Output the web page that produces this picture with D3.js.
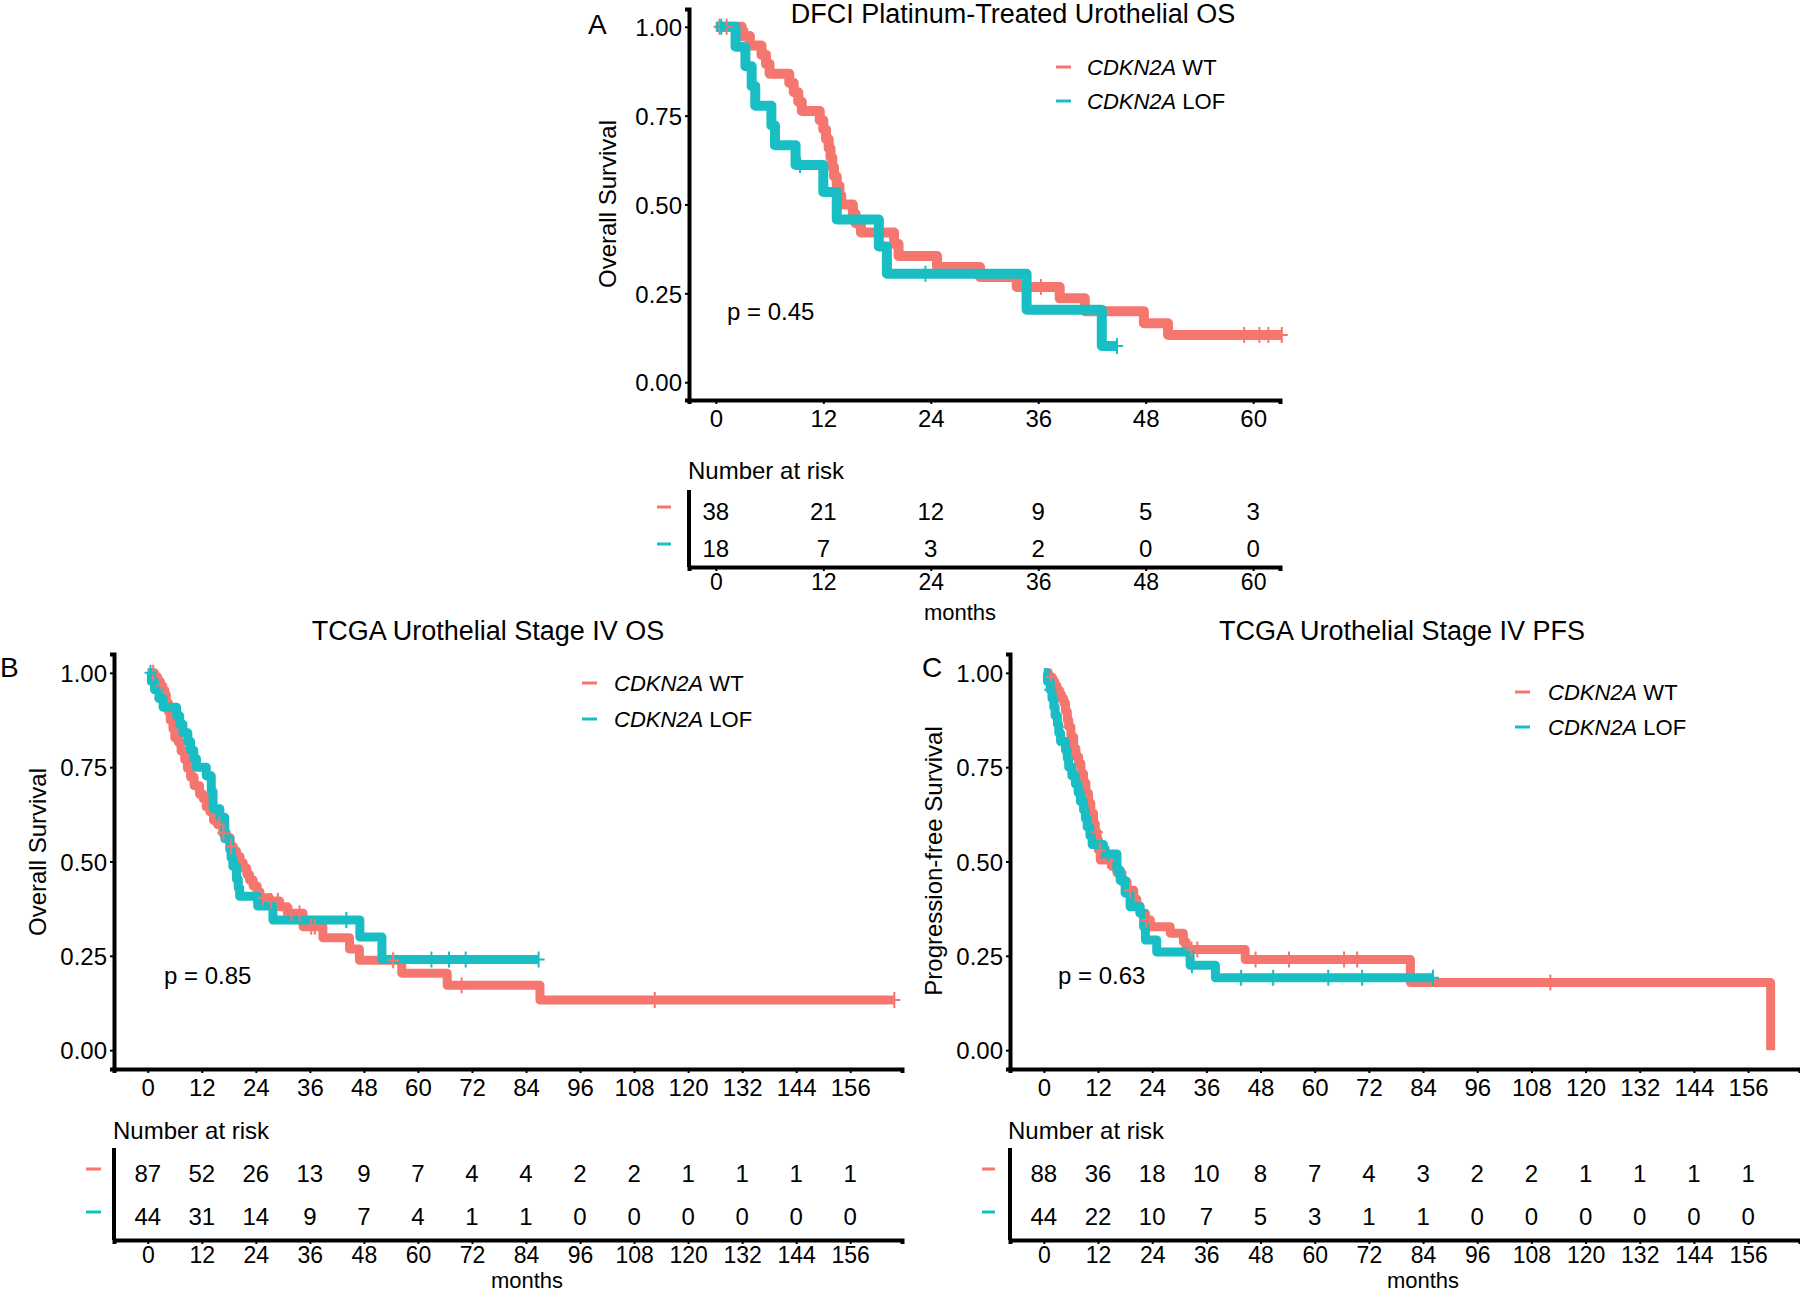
<!DOCTYPE html>
<html>
<head>
<meta charset="utf-8">
<script src="https://cdn.jsdelivr.net/npm/d3@7"></script>
<style>
  body { margin: 0; background: #fff; }
  text { font-family: "Liberation Sans", Arial, sans-serif; fill: #000; }
</style>
</head>
<body>
<svg id="fig" width="1800" height="1293"></svg>
<script>
// ---- data ----
var groupNames = ["WT", "LOF"];
var colWT = "#F5766E", colLOF = "#18BEC4";

// panel A : DFCI platinum-treated OS
var monthsA = [0, 12, 24, 36, 48, 60];
var riskA_wt = [38, 21, 12, 9, 5, 3];
var riskA_lof = [18, 7, 3, 2, 0, 0];
var survA_wt_t = [0, 2.9, 3.8, 5.1, 5.6, 6.0, 8.2, 8.7, 9.2, 9.6, 11.6, 12.0, 12.3, 12.6, 12.8, 13.0, 13.2, 13.5, 13.8, 14.0, 15.3, 15.6, 16.2, 19.9, 20.4, 24.7, 29.5, 33.6, 38.4, 41.2, 47.8, 50.5, 63.2];
var survA_wt_s = [1, 0.974, 0.947, 0.921, 0.895, 0.868, 0.842, 0.816, 0.789, 0.763, 0.737, 0.711, 0.684, 0.658, 0.632, 0.605, 0.579, 0.553, 0.526, 0.5, 0.474, 0.447, 0.421, 0.389, 0.355, 0.324, 0.296, 0.268, 0.236, 0.2, 0.166, 0.133, 0.133];
var censA_wt = [0.4, 1.2, 3.5, 36.3, 59.0, 60.7, 61.7, 63.2];
var survA_lof_t = [0, 2.2, 3.3, 4.0, 4.4, 6.2, 6.6, 8.9, 12.0, 13.5, 18.2, 19.1, 34.7, 43.1, 44.8];
var survA_lof_s = [1, 0.944, 0.889, 0.833, 0.778, 0.722, 0.667, 0.611, 0.535, 0.458, 0.382, 0.305, 0.204, 0.102, 0.102];
var censA_lof = [0.6, 9.4, 23.4, 44.8];

// panel B : TCGA stage IV OS
var monthsBC = [0, 12, 24, 36, 48, 60, 72, 84, 96, 108, 120, 132, 144, 156];
var riskB_wt = [87, 52, 26, 13, 9, 7, 4, 4, 2, 2, 1, 1, 1, 1];
var riskB_lof = [44, 31, 14, 9, 7, 4, 1, 1, 0, 0, 0, 0, 0, 0];
var survB_wt_t = [0, 1.5, 2.2, 2.8, 3.3, 3.8, 4.1, 4.6, 5.0, 5.6, 6.0, 6.8, 7.4, 8.2, 8.8, 9.5, 10.3, 11.5, 12.3, 13.0, 13.8, 14.6, 15.5, 16.7, 17.5, 18.3, 19.0, 19.7, 20.5, 21.2, 22.0, 22.6, 23.4, 24.3, 24.9, 27.0, 29.3, 31.0, 34.5, 38.9, 44.8, 47.0, 56.4, 66.5, 87.1, 165.8];
var survB_wt_s = [1, 0.989, 0.977, 0.966, 0.954, 0.943, 0.92, 0.897, 0.874, 0.851, 0.828, 0.816, 0.793, 0.77, 0.747, 0.724, 0.701, 0.678, 0.667, 0.644, 0.632, 0.609, 0.598, 0.575, 0.563, 0.54, 0.528, 0.513, 0.497, 0.482, 0.466, 0.451, 0.435, 0.42, 0.404, 0.395, 0.38, 0.363, 0.327, 0.298, 0.268, 0.238, 0.204, 0.172, 0.133, 0.133];
var censB_wt = [1.2, 3.0, 11.9, 15.9, 16.8, 18.5, 25.6, 27.4, 28.9, 31.9, 33.7, 36.3, 37.1, 54.5, 69.7, 112.6, 165.8];
var survB_lof_t = [0, 0.8, 1.5, 2.5, 3.4, 6.4, 7.1, 7.8, 8.9, 9.5, 10.2, 10.8, 13.0, 14.1, 14.5, 16.0, 17.1, 18.2, 18.5, 18.9, 19.7, 20.1, 20.4, 24.4, 27.8, 47.1, 52.0, 86.8];
var survB_lof_s = [1, 0.977, 0.955, 0.932, 0.909, 0.886, 0.864, 0.841, 0.818, 0.795, 0.773, 0.75, 0.727, 0.686, 0.64, 0.617, 0.56, 0.532, 0.51, 0.487, 0.453, 0.43, 0.408, 0.382, 0.345, 0.3, 0.24, 0.24];
var censB_lof = [0.6, 2.8, 44.1, 63.0, 66.9, 70.6, 86.8];

// panel C : TCGA stage IV PFS
var riskC_wt = [88, 36, 18, 10, 8, 7, 4, 3, 2, 2, 1, 1, 1, 1];
var riskC_lof = [44, 22, 10, 7, 5, 3, 1, 1, 0, 0, 0, 0, 0, 0];
var survC_wt_t = [0, 1.0, 1.8, 2.4, 2.9, 3.4, 3.9, 4.4, 4.8, 5.2, 5.5, 6.0, 6.6, 7.1, 7.7, 8.2, 8.8, 9.3, 9.9, 10.4, 11.0, 11.4, 11.8, 12.1, 12.5, 15.1, 16.2, 17.3, 18.4, 19.9, 20.6, 21.3, 22.5, 23.6, 28.0, 30.9, 31.5, 44.6, 81.2, 161.0, 161.0];
var survC_wt_s = [1, 0.989, 0.977, 0.966, 0.955, 0.943, 0.932, 0.92, 0.898, 0.875, 0.857, 0.83, 0.8, 0.778, 0.76, 0.733, 0.708, 0.681, 0.655, 0.628, 0.6, 0.578, 0.557, 0.53, 0.504, 0.487, 0.47, 0.447, 0.424, 0.4, 0.382, 0.363, 0.345, 0.327, 0.31, 0.287, 0.267, 0.24, 0.179, 0, 0];
var censC_wt = [1.6, 3.2, 5.5, 7.3, 11.7, 12.4, 14.2, 19.1, 22.7, 32.7, 34.0, 46.9, 54.3, 66.5, 69.4, 112.2];
var survC_lof_t = [0, 0.8, 1.4, 1.8, 2.2, 2.5, 3.0, 3.3, 3.7, 4.8, 5.2, 5.5, 6.2, 7.0, 7.6, 8.1, 8.8, 9.2, 9.6, 10.2, 10.7, 13.2, 16.2, 16.9, 18.0, 19.1, 21.3, 22.1, 22.5, 25.0, 32.4, 38.0, 86.2];
var survC_lof_s = [1, 0.977, 0.955, 0.932, 0.909, 0.886, 0.864, 0.841, 0.818, 0.795, 0.773, 0.75, 0.727, 0.705, 0.682, 0.659, 0.636, 0.614, 0.591, 0.568, 0.545, 0.52, 0.477, 0.45, 0.416, 0.38, 0.363, 0.327, 0.292, 0.26, 0.225, 0.192, 0.192];
var censC_lof = [1.4, 14.3, 32.8, 43.7, 50.8, 63.0, 70.5, 86.2];

var yBreaks = [0, 0.25, 0.5, 0.75, 1];

var svg = d3.select("#fig");

//step value at a given time
function survAt(ts, ss, t){
  var v = ss[0];
  for (var i = 0; i < ts.length; i++){ if (ts[i] <= t) v = ss[i]; }
  return v;
}

function drawPanel(p){
  var x = d3.scaleLinear().domain(p.xdom).range(p.xr);
  var y = d3.scaleLinear().domain([-0.05, 1.05]).range(p.yr);
  var g = svg.append("g");

  //title and panel letter
  g.append("text").attr("x", p.title[0]).attr("y", p.title[1])
    .attr("text-anchor", "middle").style("font-size", "27px").text(p.titleText);
  g.append("text").attr("x", p.letter[0]).attr("y", p.letter[1])
    .style("font-size", "28px").text(p.letterText);

  //y axis
  var yAx = g.append("g").attr("transform", "translate(" + p.xr[0] + ",0)")
    .call(d3.axisLeft(y).tickValues(yBreaks).tickFormat(d3.format(".2f")).tickSize(4).tickPadding(3));
  //x axis
  var xAx = g.append("g").attr("transform", "translate(0," + p.yr[0] + ")")
    .call(d3.axisBottom(x).tickValues(p.breaks).tickSize(4).tickPadding(6));
  [yAx, xAx].forEach(function(a){
    a.select(".domain").attr("stroke", "#000").attr("stroke-width", 4);
    a.selectAll(".tick line").attr("stroke", "#000").attr("stroke-width", 2);
    a.selectAll(".tick text").style("font-size", "24px").attr("fill", "#000");
  });
  yAx.selectAll(".tick text").attr("dy", "0.36em");

  //y title
  g.append("text").attr("transform", "translate(" + p.ylab[0] + "," + p.ylab[1] + ") rotate(-90)")
    .attr("text-anchor", "middle").style("font-size", "24px").text(p.ylabText);

  //curves
  var line = d3.line().curve(d3.curveStepAfter)
    .x(function(d){ return x(d[0]); }).y(function(d){ return y(d[1]); });
  p.curves.forEach(function(c){
    var pts = c.t.map(function(t, i){ return [t, c.s[i]]; });
    g.append("path").attr("d", line(pts)).attr("fill", "none")
      .attr("stroke", c.col).attr("stroke-width", p.lw)
      .attr("stroke-linejoin", "round");
  });
  p.curves.forEach(function(c){
    g.selectAll(null).data(c.cens).enter().append("path")
      .attr("d", function(t){
        var cx = x(t), cy = y(survAt(c.t, c.s, t));
        return "M" + (cx - 6) + "," + cy + "h12M" + cx + "," + (cy - 8) + "v16";
      })
      .attr("stroke", c.col).attr("stroke-width", 2).attr("fill", "none");
  });

  //legend
  p.curves.forEach(function(c, i){
    var ly = p.leg[2] + i * p.leg[3];
    g.append("line").attr("x1", p.leg[0]).attr("x2", p.leg[0] + 15)
      .attr("y1", ly).attr("y2", ly).attr("stroke", c.col).attr("stroke-width", 3);
    var t = g.append("text").attr("x", p.leg[1]).attr("y", ly + 8).style("font-size", "22px");
    t.append("tspan").style("font-style", "italic").text("CDKN2A");
    t.append("tspan").text(" " + groupNames[i]);
  });

  //p value
  g.append("text").attr("x", p.pval[0]).attr("y", p.pval[1])
    .style("font-size", "24px").text(p.pvalText);

  //risk table
  var r = p.risk;
  g.append("text").attr("x", r.titleX).attr("y", r.titleY)
    .style("font-size", "24px").text("Number at risk");
  g.append("line").attr("x1", p.xr[0]).attr("x2", p.xr[0])
    .attr("y1", r.top).attr("y2", r.bottom).attr("stroke", "#000").attr("stroke-width", 4);
  var rAx = g.append("g").attr("transform", "translate(0," + r.bottom + ")")
    .call(d3.axisBottom(x).tickValues(p.breaks).tickSize(4).tickPadding(3));
  rAx.select(".domain").attr("stroke", "#000").attr("stroke-width", 4);
  rAx.selectAll(".tick line").attr("stroke", "#000").attr("stroke-width", 2);
  rAx.selectAll(".tick text").style("font-size", "23px").attr("fill", "#000");
  p.curves.forEach(function(c, i){
    var ry = r.rows[i];
    g.append("line").attr("x1", r.mark[0]).attr("x2", r.mark[1])
      .attr("y1", ry - 4).attr("y2", ry - 4).attr("stroke", c.col).attr("stroke-width", 3);
    g.selectAll(null).data(c.risk).enter().append("text")
      .attr("x", function(d, j){ return x(p.breaks[j]); })
      .attr("y", ry + 8.5).attr("text-anchor", "middle").style("font-size", "24px")
      .text(function(d){ return d; });
  });
  g.append("text").attr("x", r.months[0]).attr("y", r.months[1])
    .attr("text-anchor", "middle").style("font-size", "22px").text("months");
}

drawPanel({
  xdom: [-3, 63], xr: [689, 1280], yr: [400, 9], breaks: monthsA, lw: 10,
  titleText: "DFCI Platinum-Treated Urothelial OS", title: [1013, 23],
  letterText: "A", letter: [588, 34],
  ylabText: "Overall Survival", ylab: [616, 204],
  leg: [1056, 1087, 67, 34], pvalText: "p = 0.45", pval: [727, 320],
  curves: [
    {t: survA_wt_t, s: survA_wt_s, cens: censA_wt, col: colWT, risk: riskA_wt},
    {t: survA_lof_t, s: survA_lof_s, cens: censA_lof, col: colLOF, risk: riskA_lof}
  ],
  risk: {titleX: 688, titleY: 479, top: 490, bottom: 567, rows: [511, 548], mark: [657, 671], months: [960, 620]}
});

drawPanel({
  xdom: [-7.5, 167.5], xr: [114, 902], yr: [1069, 654], breaks: monthsBC, lw: 9,
  titleText: "TCGA Urothelial Stage IV OS", title: [488, 640],
  letterText: "B", letter: [0, 677],
  ylabText: "Overall Survival", ylab: [46, 852],
  leg: [582, 614, 683, 36], pvalText: "p = 0.85", pval: [164, 984],
  curves: [
    {t: survB_wt_t, s: survB_wt_s, cens: censB_wt, col: colWT, risk: riskB_wt},
    {t: survB_lof_t, s: survB_lof_s, cens: censB_lof, col: colLOF, risk: riskB_lof}
  ],
  risk: {titleX: 113, titleY: 1139, top: 1148, bottom: 1240, rows: [1173, 1216], mark: [86, 101], months: [527, 1288]}
});

drawPanel({
  xdom: [-7.5, 167.5], xr: [1010, 1800], yr: [1069, 654], breaks: monthsBC, lw: 9,
  titleText: "TCGA Urothelial Stage IV PFS", title: [1402, 640],
  letterText: "C", letter: [922, 677],
  ylabText: "Progression-free Survival", ylab: [942, 861],
  leg: [1515, 1548, 692, 35], pvalText: "p = 0.63", pval: [1058, 984],
  curves: [
    {t: survC_wt_t, s: survC_wt_s, cens: censC_wt, col: colWT, risk: riskC_wt},
    {t: survC_lof_t, s: survC_lof_s, cens: censC_lof, col: colLOF, risk: riskC_lof}
  ],
  risk: {titleX: 1008, titleY: 1139, top: 1148, bottom: 1240, rows: [1173, 1216], mark: [982, 995], months: [1423, 1288]}
});
</script>
</body>
</html>
